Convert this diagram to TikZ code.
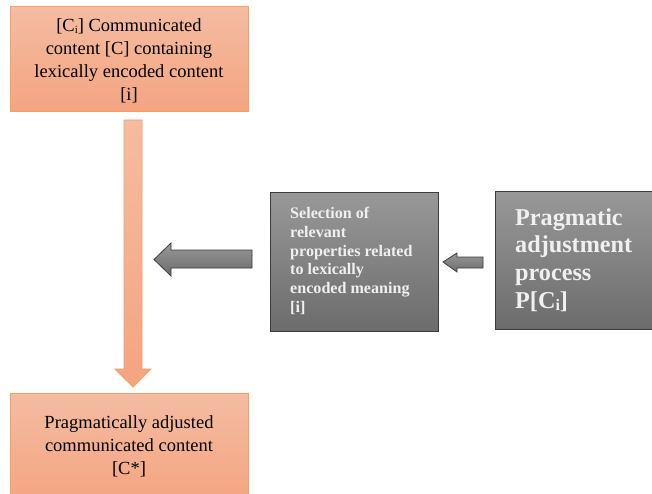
\documentclass[tikz,border=0pt]{standalone}
\usepackage{fontspec}
\setmainfont{Liberation Serif}
\newcommand\subi{\raisebox{-0.3ex}{\fontsize{11}{11}\selectfont i}}
\newcommand\subii{\raisebox{-0.25ex}{\fontsize{16}{16}\selectfont i}}
\definecolor{ortop}{RGB}{244,188,162}
\definecolor{orbot}{RGB}{244,164,128}
\definecolor{orline}{RGB}{246,158,100}
\definecolor{grtop}{RGB}{152,152,152}
\definecolor{grbot}{RGB}{108,108,108}
\definecolor{grline}{RGB}{60,60,60}
\definecolor{grtext}{RGB}{240,240,240}
\tikzset{
  orbox/.style={draw=orline, line width=1pt, top color=ortop, bottom color=orbot},
  grbox/.style={draw=grline, line width=1pt, top color=grtop, bottom color=grbot},
  ortext/.style={align=center, font=\fontsize{18.5}{23}\selectfont, text=black, inner sep=0pt},
  midtext/.style={align=left, font=\bfseries\fontsize{16.1}{18.8}\selectfont, text=grtext, inner sep=0pt, anchor=west},
  bigtext/.style={align=left, font=\bfseries\fontsize{24.2}{27.6}\selectfont, text=grtext, inner sep=0pt, anchor=west},
}
\begin{document}
\begin{tikzpicture}[x=1pt,y=-1pt]
\useasboundingbox (0,0) rectangle (652,494);
\clip (0,0) rectangle (652,494);
\fill[white] (0,0) rectangle (652,494);
% boxes
\path[orbox] (10,7) rectangle (248,112);
\coordinate (topbox) at (129,59.5);
\path[orbox] (10,393) rectangle (248,505);
\coordinate (botbox) at (129,430);
\path[grbox] (270,193) rectangle (438,331);
\coordinate (midbox) at (354,262);
\path[grbox] (495,192) rectangle (665,329);
\coordinate (rightbox) at (580,260);
% texts
\node[ortext] (toptext) at (129,60.5) {[C\subi] Communicated\\content [C] containing\\lexically encoded content\\{[i]}};
\node[ortext] (bottext) at (129,446.5) {Pragmatically adjusted\\communicated content\\{[C*]}};
\node[midtext] (midt) at (290,261) {Selection of\\relevant\\properties related\\to lexically\\encoded meaning\\{[i]}};
\node[bigtext] (bigt) at (515,260) {Pragmatic\\adjustment\\process\\P[C\subii]};
% vertical orange arrow
\coordinate (va1) at (124,120);
\path[orbox, line width=0.8pt] (124,120) -- (142,120) -- (142,369) -- (151,369) -- (133,387) -- (115,369) -- (124,369) -- cycle;
% gray arrow from middle box to left
\path[grbox, line width=0.8pt] (252,250) -- (171,250) -- (171,243) -- (154,259.5) -- (171,276) -- (171,268) -- (252,268) -- cycle;
% small gray arrow from right box to middle box
\path[grbox, line width=0.8pt] (483,257) -- (457,257) -- (457,253) -- (443,262) -- (457,272) -- (457,268) -- (483,268) -- cycle;
\end{tikzpicture}
\end{document}
